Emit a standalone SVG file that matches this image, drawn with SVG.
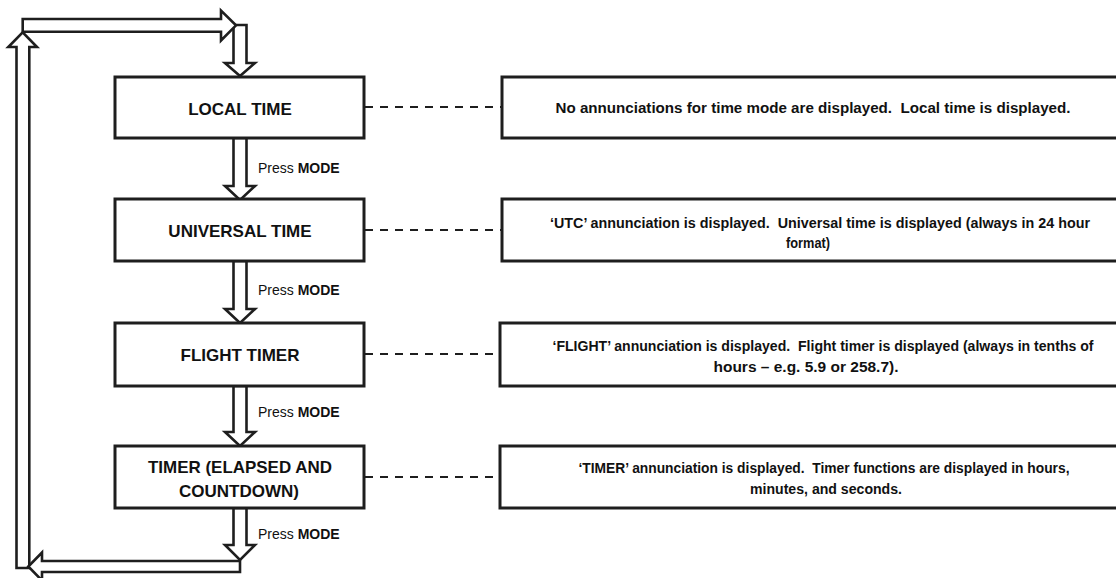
<svg xmlns="http://www.w3.org/2000/svg" width="1116" height="578" viewBox="0 0 1116 578">
<style>
.box{fill:#fff;stroke:#1e1e1e;stroke-width:3}
.blk{fill:#fff;stroke:#1e1e1e;stroke-width:2.6;stroke-linejoin:miter}
.dash{stroke:#1e1e1e;stroke-width:2.2;stroke-dasharray:8 7;fill:none}
.t{font-family:"Liberation Sans",Arial,sans-serif;font-weight:bold;font-size:17px;fill:#111;text-anchor:middle}
.r{font-family:"Liberation Sans",Arial,sans-serif;font-weight:bold;font-size:14px;fill:#111;text-anchor:middle}
.p{font-family:"Liberation Sans",Arial,sans-serif;font-size:14px;fill:#111}
.p tspan{font-weight:bold}
</style>
<rect width="1116" height="578" fill="#fff"/>
<g id="connectors">
  <!-- loop: top horizontal, top down, left vertical, bottom horizontal -->
  <polygon class="blk" points="233.5,25 246.5,25 246.5,63 255,63 240,76 225,63 233.5,63"/>
  <polygon class="blk" points="22.7,19 221,19 221,10.5 236,25.3 221,40.5 221,31.7 22.7,31.7"/>
  <polygon class="blk" points="16.5,568 16.5,47 8.3,47 22.7,32.3 37,47 29.3,47 29.3,568"/>
  <polygon class="blk" points="240,561 240,572 42,572 42,580.5 28.3,566.5 42,552.5 42,561"/>
  <!-- down arrows between boxes -->
  <polygon class="blk" points="233.5,138 246.5,138 246.5,186 255,186 240,200 225,186 233.5,186"/>
  <polygon class="blk" points="233.5,261 246.5,261 246.5,309 255,309 240,323 225,309 233.5,309"/>
  <polygon class="blk" points="233.5,386 246.5,386 246.5,432 255,432 240,446 225,432 233.5,432"/>
  <polygon class="blk" points="233.5,508 246.5,508 246.5,545 255,545 240,560 225,545 233.5,545"/>
  <!-- dashed connectors -->
  <line class="dash" x1="365" y1="107" x2="502" y2="107"/>
  <line class="dash" x1="365" y1="230" x2="502" y2="230"/>
  <line class="dash" x1="365" y1="354" x2="500" y2="354"/>
  <line class="dash" x1="365" y1="477" x2="500" y2="477"/>
  <!-- labels -->
  <text class="p" x="258" y="173">Press <tspan>MODE</tspan></text>
  <text class="p" x="258" y="295">Press <tspan>MODE</tspan></text>
  <text class="p" x="258" y="417">Press <tspan>MODE</tspan></text>
  <text class="p" x="258" y="539">Press <tspan>MODE</tspan></text>
</g>
<g id="local-time">
  <rect class="box" x="115" y="77" width="249" height="61"/>
  <text class="t" x="240" y="115">LOCAL TIME</text>
</g>
<g id="universal-time">
  <rect class="box" x="115" y="199" width="249" height="62"/>
  <text class="t" x="240" y="237">UNIVERSAL TIME</text>
</g>
<g id="flight-timer">
  <rect class="box" x="115" y="323" width="249" height="63"/>
  <text class="t" x="240" y="361">FLIGHT TIMER</text>
</g>
<g id="timer">
  <rect class="box" x="115" y="446" width="249" height="62"/>
  <text class="t" x="240" y="473" textLength="184" lengthAdjust="spacingAndGlyphs">TIMER (ELAPSED AND</text>
  <text class="t" x="239" y="497">COUNTDOWN)</text>
</g>
<g id="desc-local">
  <rect class="box" x="502" y="77" width="630" height="61"/>
  <text class="r" x="813" y="113" textLength="515" lengthAdjust="spacingAndGlyphs">No annunciations for time mode are displayed.&#160; Local time is displayed.</text>
</g>
<g id="desc-universal">
  <rect class="box" x="502" y="199" width="630" height="62"/>
  <text class="r" x="820" y="228" textLength="540" lengthAdjust="spacingAndGlyphs">‘UTC’ annunciation is displayed.&#160; Universal time is displayed (always in 24 hour</text>
  <text class="r" x="808" y="248" textLength="44" lengthAdjust="spacingAndGlyphs">format)</text>
</g>
<g id="desc-flight">
  <rect class="box" x="500" y="323" width="630" height="63"/>
  <text class="r" x="823" y="351" textLength="541" lengthAdjust="spacingAndGlyphs">‘FLIGHT’ annunciation is displayed.&#160; Flight timer is displayed (always in tenths of</text>
  <text class="r" x="806" y="372" textLength="185" lengthAdjust="spacingAndGlyphs">hours – e.g. 5.9 or 258.7).</text>
</g>
<g id="desc-timer">
  <rect class="box" x="500" y="446" width="630" height="62"/>
  <text class="r" x="824" y="473" textLength="491" lengthAdjust="spacingAndGlyphs">‘TIMER’ annunciation is displayed.&#160; Timer functions are displayed in hours,</text>
  <text class="r" x="826" y="494" textLength="152" lengthAdjust="spacingAndGlyphs">minutes, and seconds.</text>
</g>
</svg>
